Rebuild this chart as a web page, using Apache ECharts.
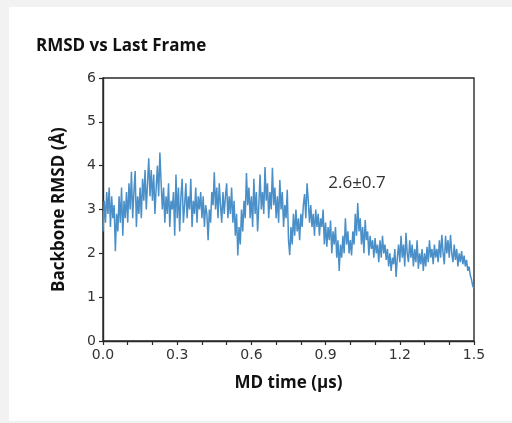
<!DOCTYPE html>
<html>
<head>
<meta charset="utf-8">
<script src="https://cdn.jsdelivr.net/npm/echarts@6/dist/echarts.min.js"></script>
<style>
html,body{margin:0;padding:0;background:#f2f2f2;}
#chart{width:512px;height:423px;}
</style>
</head>
<body>
<div id="chart"></div>
<script>
const title = 'RMSD vs Last Frame';
const xName = 'MD time (µs)';
const yName = 'Backbone RMSD (Å)';
const annotation = '2.6±0.7';
const annotationAt = [1.027, 3.6];
const timeStep = 0.005; // µs between frames
const rmsd = [
 2.5,3.2,2.7,3.4,2.9,3.5,2.6,3.3,2.8,3.1,
 2.05,2.9,2.5,3.3,2.7,3.5,2.4,3.2,2.8,3.4,
 2.7,3.6,3.0,3.86,2.8,3.4,3.88,2.6,3.3,2.9,
 3.5,2.8,3.7,3.2,3.9,3.0,3.6,4.17,3.3,3.9,
 3.2,3.8,2.9,3.5,4.0,3.3,4.3,3.6,3.0,3.5,
 2.7,3.3,2.9,3.6,2.6,3.2,3.0,3.4,2.4,3.8,
 2.8,3.5,2.5,3.3,3.7,2.7,3.1,3.6,2.8,3.3,
 3.0,3.7,2.6,3.2,2.9,3.5,2.7,3.3,3.0,3.4,
 2.8,3.3,2.6,3.1,2.9,2.3,3.0,2.7,3.4,3.1,
 3.85,3.0,3.5,2.8,3.6,3.1,2.7,3.4,2.9,3.3,
 3.6,2.8,3.3,2.9,3.5,2.7,3.2,2.4,2.9,1.95,
 2.6,2.2,3.0,2.5,3.2,2.8,3.83,3.1,3.5,2.8,
 3.3,2.6,3.7,2.9,3.4,2.5,3.1,3.8,3.0,3.4,
 2.9,3.97,3.2,3.6,2.8,3.4,3.0,3.95,3.1,3.5,
 2.8,3.3,2.7,3.67,3.0,3.4,2.6,3.1,2.8,3.45,
 2.3,1.96,2.6,2.2,2.9,2.4,3.0,2.5,2.8,2.3,
 2.9,2.6,3.1,3.35,2.8,3.6,3.2,2.7,3.1,2.6,
 2.9,2.4,3.0,2.6,2.9,2.4,2.8,2.6,3.0,2.2,
 2.7,2.15,2.6,2.3,2.75,2.0,2.5,2.2,2.6,1.9,
 2.3,1.6,2.2,1.9,2.4,2.0,2.8,2.2,2.5,2.0,
 2.3,1.95,2.5,2.2,2.9,2.4,3.15,2.5,2.8,2.2,
 2.6,2.0,2.76,2.3,2.5,1.95,2.4,2.1,2.3,1.9,
 2.35,2.0,2.2,1.8,2.3,1.9,2.4,2.0,2.2,1.85,
 2.1,1.7,2.0,1.6,1.9,1.75,2.1,1.46,1.9,2.2,
 1.8,2.4,1.9,2.2,1.7,2.47,2.0,1.8,2.3,1.9,
 2.2,1.7,2.1,1.8,2.3,1.65,2.0,1.75,2.1,1.6,
 2.0,1.7,2.15,1.8,2.3,1.9,2.1,1.75,2.2,1.9,
 2.1,1.8,2.3,1.9,2.42,2.0,1.75,2.4,2.0,2.3,
 1.9,2.42,2.0,1.8,2.2,1.85,2.1,1.7,2.0,1.8,
 2.05,1.75,1.95,1.7,1.85,1.6,1.7,1.5,1.4,1.25,
 1.2
];
const xTickLabels = ['0.0','0.3','0.6','0.9','1.2','1.5'];
const yTicks = [0,1,2,3,4,5,6];

const seriesData = rmsd.map((v, i) => [+(i * timeStep).toFixed(3), v]);
const tickFont = 'DejaVu Sans';
const boldFont = '"Open Sans", "Noto Sans", sans-serif';

const chart = echarts.init(document.getElementById('chart'), null, {renderer: 'canvas'});
chart.setOption({
  backgroundColor: '#f2f2f2',
  animation: false,
  graphic: [{
    type: 'rect', z: -10, silent: true,
    shape: {x: 9, y: 7, width: 503, height: 414},
    style: {fill: '#ffffff'}
  }],
  title: {
    text: title, left: 31, top: 33,
    textStyle: {fontFamily: boldFont, fontWeight: 'bold', fontSize: 17, color: '#111'}
  },
  grid: {
    left: 103, right: 38, top: 78, bottom: 82,
    show: true, borderColor: '#2a2a2a', borderWidth: 1.4, backgroundColor: 'transparent'
  },
  xAxis: {
    type: 'value', min: 0, max: 1.5, interval: 0.1,
    name: xName, nameLocation: 'middle', nameGap: 34,
    nameTextStyle: {fontFamily: boldFont, fontWeight: 'bold', fontSize: 17, color: '#111'},
    axisLine: {show: true, lineStyle: {color: '#2a2a2a', width: 1.4}},
    axisTick: {show: true, inside: false, length: 4, lineStyle: {color: '#2a2a2a', width: 1.2}},
    axisLabel: {
      fontFamily: tickFont, fontSize: 14, color: '#333', margin: 7,
      formatter: v => {
        const s = v.toFixed(1);
        return xTickLabels.indexOf(s) >= 0 ? s : '';
      }
    },
    splitLine: {show: false}
  },
  yAxis: {
    type: 'value', min: yTicks[0], max: yTicks[yTicks.length - 1], interval: 1,
    name: yName, nameLocation: 'middle', nameGap: 35, nameRotate: 90,
    nameTextStyle: {fontFamily: boldFont, fontWeight: 'bold', fontSize: 17, color: '#111'},
    axisLine: {show: true, lineStyle: {color: '#2a2a2a', width: 1.4}},
    axisTick: {show: true, inside: false, length: 4, lineStyle: {color: '#2a2a2a', width: 1.2}},
    axisLabel: {fontFamily: tickFont, fontSize: 14, color: '#333', margin: 7},
    splitLine: {show: false}
  },
  series: [{
    type: 'line', data: seriesData, showSymbol: false, symbol: 'none',
    lineStyle: {color: '#4a8fc7', width: 1.5},
    markPoint: {
      symbol: 'circle', symbolSize: 0,
      data: [{coord: annotationAt, value: annotation}],
      label: {
        show: true, position: 'inside', formatter: annotation,
        fontFamily: '"Open Sans", "Noto Sans", sans-serif', fontSize: 17, color: '#333'
      }
    }
  }]
});
</script>
</body>
</html>
